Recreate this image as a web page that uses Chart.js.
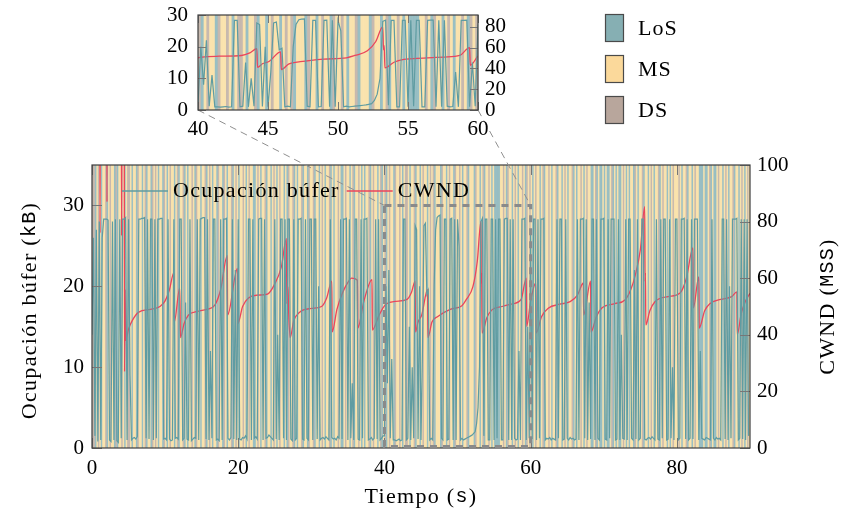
<!DOCTYPE html>
<html>
<head>
<meta charset="utf-8">
<script src="https://cdn.jsdelivr.net/npm/chart.js@4.4.1/dist/chart.umd.min.js"></script>
<style>
  html, body { margin: 0; padding: 0; background: #fff; }
  #wrap { position: relative; width: 844px; height: 519px; overflow: hidden; }
  #main { position: absolute; left: 0; top: 0; }
  #zoom { position: absolute; left: 150px; top: -15px; }
</style>
</head>
<body>
<div id="wrap">
  <canvas id="main" width="844" height="519"></canvas>
  <canvas id="zoom" width="380" height="155"></canvas>
</div>
<script>
var serif = 'Liberation Serif';
var mono = 'Liberation Mono';

var stateNames = ['LoS', 'MS', 'DS'];
var stateColors = ['rgba(148,188,193,0.95)', 'rgba(250,225,170,0.95)', 'rgba(196,181,171,0.95)'];
var legendColors = ['#86afb3', '#fbd99b', '#b8a69c'];

// one string per 10 s, one letter per sample: L = LoS, M = MS, D = DS
var stateCodes = [
  "DDLMDMLMMDLMDMMLDLMMDMLMDDMLMMLDMMLMDLMMLDMDMLMMLD",
  "MLMDMMLMDLMMDLMLMMDMLDMMLMMDLMDMLMMLDMMLDMLMMDLMDM",
  "LMMDMLMDMMLLMDMLMMDLMMLMDMLMDMMLMLDMMDLMLMMDLMMLDM",
  "MDLMMLMDMLMMDLMLMMDMLLMDMMLMDLMMDMLMLMMDLMDMMLMDLM",
  "DLMDMMLDMMDMLMDDMLMMDLMMLMDMMLMDMDLMMMLDMMLMDMMLDM",
  "MDMLMMDLMMMLDMMLMDLMMDMLMLLLLMMDMLDMMLMDMLMMDMLDMD",
  "MLMDMMLMDLMMDMLMMDLMMLMDMLMMDLMLMMDMLMDMMLLMDLMLLM",
  "LMLLMDLMLMLLMDMLMLMMLDMLMMDLMMLMDMLMMDLMDMMLMLMDMM",
  "MDMLMMDLMMLMDMMLLLMLLMDLMLLMDMMLMDMLMMDLMMLMDMLMDM"
];

// buffer occupancy (kB), one row per 10 s
var bufferKB = [
  [14,26,1.5,27,0.8,28,1,26,28.3,28.3, 28.3,28.2,1,0.8,28,1,28.3,0.9,0.7,28.3, 1.2,28.3,28.3,28.5,1,28.3,9,1,1.2,1.3, 1.1,1.4,28.3,28.3,28.4,28.4,28.5,1.2,28.3,1.1, 28.3,28.3,1,28.3,1.2,28.3,28.3,28.4,28.4,1.1],
  [1.2,1.0,28.3,1.1,0.9,1.0,28.3,1.2,1.3,1.1, 28.3,28.3,1.0,1.2,18,1.1,1.0,28.3,0.9,1.1, 1.3,1.2,28.3,1.0,28.3,28.4,28.5,28.5,1.1,28.3, 1.0,12,1.2,28.3,28.3,1.0,1.1,0.9,28.3,1.0, 28.3,28.3,28.4,1.2,1.0,1.3,28.3,1.1,22,1.0],
  [28.3,1.1,1.0,1.3,1.2,1.5,1.1,28.3,28.3,1.0, 28.3,1.2,1.4,1.1,28.3,28.4,28.4,1.0,28.3,1.2, 1.3,1.6,1.4,1.2,1.0,28.3,1.1,14,1.0,28.3, 28.3,1.2,28.3,1.0,28.3,28.3,1.1,0.9,28.3,1.0, 1.2,28.3,28.3,28.4,1.1,1.0,28.3,1.2,1.0,28.3],
  [28.3,1.0,28.3,28.3,1.1,20,1.0,1.2,1.3,1.1, 1.4,1.2,1.0,28.3,1.3,1.1,1.2,1.0,1.4,1.2, 28.3,1.1,28.3,28.3,28.4,1.0,28.3,1.2,8,1.0, 28.3,28.3,1.1,1.0,28.3,1.2,28.3,28.3,28.4,1.0, 1.1,1.3,1.0,1.2,28.3,1.1,28.3,1.0,1.2,1.5],
  [1.5,20,8,22,1.2,11,1.0,1.0,0.9,1.0, 1.1,0.9,1.0,28.3,28.3,1.0,1.2,15,1.0,10, 1.2,27.5,27,1.1,20,1.0,12,27.5,27.8,19, 19.5,1.0,1.2,1.0,20,27,28.5,28.7,28.8,1.2, 1.0,28.3,28.3,1.0,1.1,28.3,28.4,1.0,28.3,1.0],
  [28.3,25,1.0,1.2,1.0,1.1,1.2,1.3,1.4,1.5, 1.6,1.8,2.0,3.0,5.0,10,28,28.4,1.5,28.3, 28.3,1.0,1.0,28.3,28.3,1.0,28.3,1.2,28.3,28.3, 1.0,1.0,28.3,28.4,28.4,1.0,28.3,1.0,28.3,1.2, 1.0,1.1,12,1.0,28.3,28.3,28.4,1.0,15,1.2],
  [27,1.1,28.3,28.3,1.0,28.3,1.2,28.3,28.3,28.4, 1.0,1.2,1.1,1.3,1.0,1.2,1.1,1.0,28.3,1.2, 28.3,28.3,1.0,1.1,28.3,1.2,1.0,1.3,1.1,1.2, 1.0,1.1,28.3,1.0,28.3,28.3,28.4,1.2,28.3,1.0, 18,1.1,28.3,28.3,1.0,28.3,1.2,1.0,28.3,28.3],
  [28.4,1.1,1.0,28.3,1.2,28.3,28.3,28.3,1.0,1.1, 28.3,1.0,14,1.2,1.1,28.3,1.0,28.3,28.3,1.2, 1.0,22,1.1,28.3,1.0,1.2,28.3,28.3,1.1,1.0, 1.2,1.3,1.1,1.4,1.2,1.0,28.3,1.1,1.0,28.3, 1.2,28.3,28.3,1.0,1.1,28.3,1.2,10,1.0,28.3],
  [28.3,1.0,1.2,28.3,28.3,28.4,1.1,28.3,1.0,1.2, 28.3,1.1,28.3,28.3,28.3,1.0,12,1.2,1.1,1.0, 1.3,1.2,1.1,1.0,28.3,1.2,1.0,1.3,1.1,1.2, 1.0,28.3,28.3,1.1,28.3,1.0,20,1.2,28.3,28.3, 28.3,28.4,1.0,1.2,28.3,1.1,28.3,1.0,28.3,1.5]
];

var cwndTime = [0,1.05,1.1,1.15,2.0,2.05,2.1,4.0,4.05,4.1,4.4,4.45,4.55,4.6,5.0,5.5,6.4,8.0,9.3,10.0,
  10.6,11.2,11.25,12.0,12.1,12.6,13.2,14.5,15.7,16.8,17.6,18.5,18.55,19.9,19.95,20.6,21.4,22.6,24.0,25.0,
  25.9,26.6,26.65,26.8,26.9,27.1,27.6,28.4,30.0,31.4,32.1,32.8,32.85,33.5,34.3,35.0,35.5,36.3,36.35,37.2,
  38.3,38.35,39.2,39.8,40.3,41.5,43.1,43.7,44.2,44.25,44.6,45.1,45.9,45.95,46.5,47.3,49.0,50.6,51.2,52.1,
  52.7,53.2,53.25,53.3,53.35,54.0,54.7,56.1,57.6,58.7,59.4,59.45,60.0,60.7,60.75,61.5,62.4,64.0,65.4,66.4,
  67.2,67.25,68.2,68.25,69.0,69.7,71.5,72.9,73.7,74.3,75.0,75.6,75.65,75.7,75.75,76.3,77.0,78.8,80.4,81.3,
  82.2,82.25,83.0,83.05,83.8,84.5,86.0,87.5,88.2,88.25,88.8,89.4,90.0];
var cwndMSS = [150,150,76,150,150,87,150,150,75,150,150,27,56,38,42,45,48,49,50,52,
  56,62,44.5,56.5,39,44,47,48.3,49,50.5,56,68,47,63.5,44,50,53,54,54.4,58,
  64,74,51,57,48,39,45,48,49.3,50,53,59,41,49,55,58.5,60,59.3,42.4,52,
  59.5,41.7,46.5,49.5,51,51.8,52.5,55,59,41,44.5,47,56,39,44.5,46.5,49,50.3,52.5,57,
  66,80,58,62,40.6,46,48.8,50,51,52.5,60,43,52,58.3,40.6,46.5,49.4,50.8,51.7,54,
  58.3,47,59,41,46.5,49.4,51,52.3,56,61,70,85.3,58.8,62,43.5,48.5,51.7,53.5,54.7,60,
  70.7,49.5,60.5,42.4,48.5,51,52.5,53.5,55.2,40,47.5,52,54.7];

var xTicks = [0, 20, 40, 60, 80];
var leftTicks = [0, 10, 20, 30];
var rightTicks = [0, 20, 40, 60, 80, 100];
var zoomXTicks = [40, 45, 50, 55, 60];
var zoomRightTicks = [0, 20, 40, 60, 80];

var bufferPts = [];
bufferKB.forEach(function (row, c) {
  var step = 10 / row.length;
  row.forEach(function (v, i) { bufferPts.push({ x: c * 10 + i * step, y: v }); });
});
var cwndPts = cwndTime.map(function (t, i) { return { x: t, y: cwndMSS[i] }; });

function makeDatasets() {
  return [{
    label: 'Ocupación búfer', data: bufferPts, yAxisID: 'y',
    borderColor: '#5f9ca2', borderWidth: 1.2, pointRadius: 0, tension: 0
  }, {
    label: 'CWND', data: cwndPts, yAxisID: 'y1',
    borderColor: '#eb455b', borderWidth: 1.3, pointRadius: 0, cubicInterpolationMode: 'monotone'
  }];
}

function fixTicks(list) {
  return function (s) { s.ticks = list.map(function (v) { return { value: v }; }); };
}

function tickOpts(pad) {
  return { padding: pad, autoSkip: false, maxRotation: 0, color: '#000', font: { family: serif, size: 21 } };
}

function drawBands(chart) {
  var ctx = chart.ctx, a = chart.chartArea, xs = chart.scales.x;
  ctx.save();
  ctx.beginPath();
  ctx.rect(a.left, a.top, a.right - a.left, a.bottom - a.top);
  ctx.clip();
  stateCodes.forEach(function (s, c) {
    var step = 10 / s.length;
    for (var i = 0; i < s.length; i++) {
      var k = 'LMD'.indexOf(s[i]);
      var x0 = xs.getPixelForValue(c * 10 + i * step);
      var x1 = xs.getPixelForValue(c * 10 + (i + 1) * step);
      ctx.fillStyle = stateColors[k];
      ctx.fillRect(x0, a.top, x1 - x0 + 0.6, a.bottom - a.top);
    }
  });
  ctx.restore();
}

function drawFrame(chart, xT, yT, y1T, len) {
  var ctx = chart.ctx, a = chart.chartArea, s = chart.scales;
  ctx.save();
  ctx.strokeStyle = '#777';
  ctx.lineWidth = 1;
  ctx.beginPath();
  xT.forEach(function (v) {
    var p = Math.round(s.x.getPixelForValue(v)) + 0.5;
    ctx.moveTo(p, a.bottom); ctx.lineTo(p, a.bottom - len);
    ctx.moveTo(p, a.top); ctx.lineTo(p, a.top + len);
  });
  yT.forEach(function (v) {
    var p = Math.round(s.y.getPixelForValue(v)) + 0.5;
    ctx.moveTo(a.left, p); ctx.lineTo(a.left + len, p);
  });
  y1T.forEach(function (v) {
    var p = Math.round(s.y1.getPixelForValue(v)) + 0.5;
    ctx.moveTo(a.right, p); ctx.lineTo(a.right - len, p);
  });
  ctx.stroke();
  ctx.strokeStyle = '#3c3c3c';
  ctx.lineWidth = 1.2;
  ctx.strokeRect(a.left, a.top, a.right - a.left, a.bottom - a.top);
  ctx.restore();
}

function drawParts(ctx, parts, cx, cy, rot) {
  ctx.save();
  ctx.translate(cx, cy);
  if (rot) ctx.rotate(rot);
  ctx.letterSpacing = '1.3px';
  var total = 0;
  parts.forEach(function (p) { ctx.font = p[1]; total += ctx.measureText(p[0]).width; });
  var x = -total / 2;
  ctx.fillStyle = '#000';
  ctx.textBaseline = 'middle';
  ctx.textAlign = 'left';
  parts.forEach(function (p) {
    ctx.font = p[1];
    ctx.fillText(p[0], x, 0);
    x += ctx.measureText(p[0]).width;
  });
  ctx.restore();
}

var bandsPlugin = { id: 'bands', beforeDatasetsDraw: drawBands };
var noGrid = { display: false, drawTicks: false };

var zoomChart = new Chart(document.getElementById('zoom'), {
  type: 'line',
  data: { datasets: makeDatasets() },
  plugins: [bandsPlugin, {
    id: 'zoomFrame',
    afterDatasetsDraw: function (c) { drawFrame(c, zoomXTicks, leftTicks, zoomRightTicks, 8); }
  }],
  options: {
    responsive: false, animation: false, parsing: false,
    layout: { padding: { top: 30, left: 0, right: 0, bottom: 0 } },
    plugins: { legend: { display: false }, tooltip: { enabled: false } },
    scales: {
      x: {
        type: 'linear', min: 40, max: 60, afterBuildTicks: fixTicks(zoomXTicks),
        afterFit: function (s) { s.height = 30; },
        grid: noGrid, border: { display: false }, ticks: tickOpts(7)
      },
      y: {
        min: 0, max: 30, afterBuildTicks: fixTicks(leftTicks),
        afterFit: function (s) { s.width = 48; },
        grid: noGrid, border: { display: false }, ticks: tickOpts(10)
      },
      y1: {
        position: 'right', min: 0, max: 91.5, afterBuildTicks: fixTicks(zoomRightTicks),
        afterFit: function (s) { s.width = 52; },
        grid: noGrid, border: { display: false }, ticks: tickOpts(7)
      }
    }
  }
});

var mainChart = new Chart(document.getElementById('main'), {
  type: 'line',
  data: { datasets: makeDatasets() },
  plugins: [bandsPlugin, {
    id: 'mainFrame',
    afterDatasetsDraw: function (c) { drawFrame(c, xTicks, leftTicks, rightTicks, 10); }
  }, {
    id: 'extras',
    afterDraw: function (c) {
      var ctx = c.ctx, s = c.scales, a = c.chartArea;
      // zoom box
      var bx0 = s.x.getPixelForValue(40), bx1 = s.x.getPixelForValue(60);
      var by0 = s.y.getPixelForValue(30), by1 = s.y.getPixelForValue(0);
      ctx.save();
      ctx.strokeStyle = '#8a8a8a';
      ctx.lineWidth = 3;
      ctx.setLineDash([7, 6]);
      ctx.strokeRect(bx0, by0, bx1 - bx0, by1 - by0 - 1.5);
      // connectors to the inset
      var za = zoomChart.chartArea, ox = 150, oy = -15;
      ctx.lineWidth = 1;
      ctx.strokeStyle = '#8f8f8f';
      ctx.setLineDash([7, 5]);
      ctx.beginPath();
      ctx.moveTo(ox + za.left, oy + za.bottom); ctx.lineTo(bx0, by0);
      ctx.moveTo(ox + za.right, oy + za.bottom); ctx.lineTo(bx1, by0);
      ctx.stroke();
      ctx.restore();

      // in-plot legend
      ctx.save();
      ctx.font = '22px ' + serif;
      ctx.letterSpacing = '1.3px';
      ctx.textBaseline = 'middle';
      ctx.fillStyle = '#000';
      var lx = 122, ly = 191;
      c.data.datasets.forEach(function (d) {
        ctx.strokeStyle = d.borderColor;
        ctx.lineWidth = 1.3;
        ctx.beginPath(); ctx.moveTo(lx, ly); ctx.lineTo(lx + 46, ly); ctx.stroke();
        ctx.fillText(d.label, lx + 51, ly);
        lx += 51 + ctx.measureText(d.label).width + 7;
      });
      ctx.restore();

      // state legend
      ctx.save();
      ctx.font = '22px ' + serif;
      ctx.letterSpacing = '1px';
      ctx.textBaseline = 'middle';
      stateNames.forEach(function (n, i) {
        var y = 14 + i * 41;
        ctx.fillStyle = legendColors[i];
        ctx.fillRect(605.5, y + 0.5, 18, 27);
        ctx.strokeStyle = '#4a4a4a';
        ctx.lineWidth = 1.2;
        ctx.strokeRect(605.5, y + 0.5, 18, 27);
        ctx.fillStyle = '#000';
        ctx.fillText(n, 638, y + 15);
      });
      ctx.restore();

      // axis titles
      var f = '22px ' + serif, m = '20px ' + mono;
      drawParts(ctx, [['Tiempo (', f], ['s', m], [')', f]], (a.left + a.right) / 2, 497, 0);
      drawParts(ctx, [['Ocupación búfer (', f], ['kB', m], [')', f]], 30, (a.top + a.bottom) / 2 + 4, -Math.PI / 2);
      drawParts(ctx, [['CWND (', f], ['MSS', m], [')', f]], 828, (a.top + a.bottom) / 2, -Math.PI / 2);
    }
  }],
  options: {
    responsive: false, animation: false, parsing: false,
    layout: { padding: { top: 165, left: 0, right: 0, bottom: 0 } },
    plugins: { legend: { display: false }, tooltip: { enabled: false } },
    scales: {
      x: {
        type: 'linear', min: 0, max: 90, afterBuildTicks: fixTicks(xTicks),
        afterFit: function (s) { s.height = 71; },
        grid: noGrid, border: { display: false }, ticks: tickOpts(8)
      },
      y: {
        min: 0, max: 35, afterBuildTicks: fixTicks(leftTicks),
        afterFit: function (s) { s.width = 92; },
        grid: noGrid, border: { display: false }, ticks: tickOpts(8)
      },
      y1: {
        position: 'right', min: 0, max: 100, afterBuildTicks: fixTicks(rightTicks),
        afterFit: function (s) { s.width = 94; },
        grid: noGrid, border: { display: false }, ticks: tickOpts(7)
      }
    }
  }
});
</script>
</body>
</html>
